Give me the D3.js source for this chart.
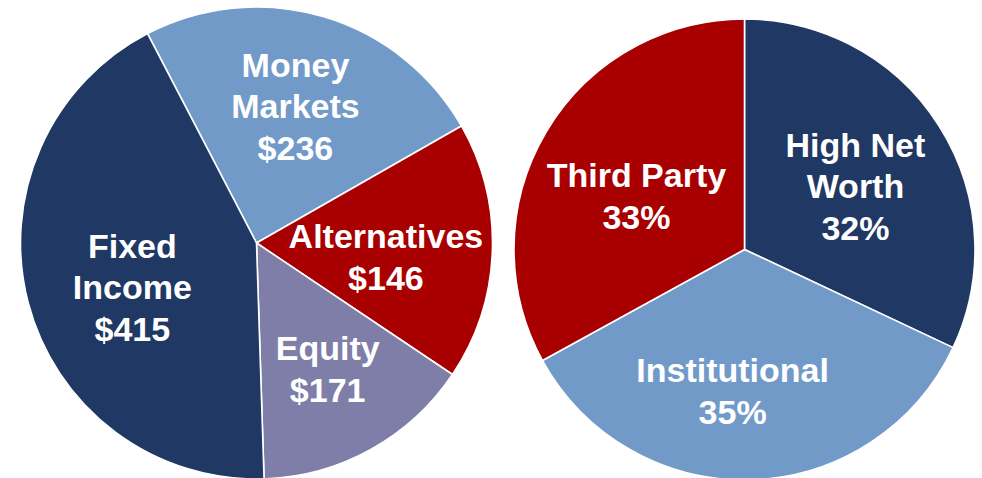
<!DOCTYPE html>
<html>
<head>
<meta charset="utf-8">
<script src="https://cdn.jsdelivr.net/npm/d3@7"></script>
<style>
  html, body { margin: 0; padding: 0; background: #fff; }
  svg { display: block; }
  .label { fill: #fff; font-family: "Liberation Sans", Arial, sans-serif; font-weight: bold; font-size: 34px; text-anchor: middle; }
</style>
</head>
<body>
<script>
// left pie: assets by type, clockwise from the Fixed Income / Money Markets edge
// (slice sizes as drawn in the reference; Alternatives/Equity wedges are drawn
// at the other's amount there, so the printed text is kept separately)
const assetNames = ['Money Markets', 'Alternatives', 'Equity', 'Fixed Income'];
const assetSlices = [236, 171, 146, 415];
const assetText = ['$236', '$146', '$171', '$415'];

// right pie: by client channel, clockwise from 12 o'clock
const channelNames = ['High Net Worth', 'Institutional', 'Third Party'];
const channelShare = [32, 35, 33];
const channelText = ['32%', '35%', '33%'];

const navy = '#203864', sky = '#729ac8', red = '#a80000', slate = '#7e7ea8';

const width = 982, height = 478;

const svg = d3.select('body').append('svg')
  .attr('width', width)
  .attr('height', height);

function drawPie(opts) {
  const rows = opts.names.map((name, i) => ({
    name: name,
    value: opts.values[i],
    text: opts.text[i]
  }));

  const pie = d3.pie()
    .sort(null)
    .value(d => d.value)
    .startAngle(opts.start * Math.PI / 180)
    .endAngle(opts.start * Math.PI / 180 + 2 * Math.PI);

  const arc = d3.arc().innerRadius(0).outerRadius(opts.r);
  const labelArc = d3.arc().innerRadius(opts.r * 0.57).outerRadius(opts.r * 0.57);

  const g = svg.append('g')
    .attr('transform', `translate(${opts.cx}, ${opts.cy})`);

  const arcs = pie(rows);

  g.selectAll('path')
    .data(arcs)
    .enter().append('path')
    .attr('d', arc)
    .attr('fill', (d, i) => opts.colors[i])
    .attr('stroke', '#fff')
    .attr('stroke-width', 1.6)
    .attr('stroke-linejoin', 'round');

  const lineH = 41.5;
  const capH = 34 * 0.716;

  g.selectAll('text')
    .data(arcs)
    .enter().append('text')
    .attr('class', 'label')
    .each(function(d, i) {
      const lines = opts.lines[i].concat([d.data.text]);
      const c = labelArc.centroid(d);
      const nudge = opts.nudge[i];
      const x = c[0] + nudge[0];
      const y0 = c[1] + nudge[1] - (lines.length - 1) * lineH / 2 + capH / 2;
      const t = d3.select(this);
      lines.forEach((line, k) => {
        t.append('tspan')
          .attr('x', x)
          .attr('y', y0 + k * lineH)
          .text(line);
      });
    });
}

drawPie({
  names: assetNames,
  values: assetSlices,
  text: assetText,
  lines: [['Money', 'Markets'], ['Alternatives'], ['Equity'], ['Fixed', 'Income']],
  colors: [sky, red, slate, navy],
  cx: 256.5, cy: 243, r: 236,
  start: -27.5,
  nudge: [[1, -8], [-5, 9], [6, 8], [6, 10]]
});

drawPie({
  names: channelNames,
  values: channelShare,
  text: channelText,
  lines: [['High Net', 'Worth'], ['Institutional'], ['Third Party']],
  colors: [navy, sky, red],
  cx: 744.5, cy: 249.5, r: 230.5,
  start: 0,
  nudge: [[0, 7], [-16, 10], [5, 13]]
});
</script>
</body>
</html>
